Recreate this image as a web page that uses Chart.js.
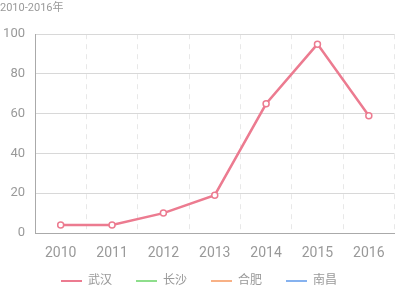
<!DOCTYPE html>
<html>
<head>
<meta charset="utf-8">
<script src="https://cdn.jsdelivr.net/npm/chart.js@4"></script>
<style>
  html, body { margin: 0; padding: 0; background: #fff; }
  #wrap { width: 400px; height: 288px; }
</style>
</head>
<body>
<div id="wrap"><canvas id="myChart"></canvas></div>
<script>
const years = ['2010', '2011', '2012', '2013', '2014', '2015', '2016'];
const cities = ['武汉', '长沙', '合肥', '南昌'];
const wuhan = [4, 4, 10, 19, 65, 95, 59];
const changsha = [];
const hefei = [];
const nanchang = [];
const colors = ['#ec7b90', '#8ede8c', '#f8b186', '#86b2ef'];

const seriesList = [wuhan, changsha, hefei, nanchang];

const datasets = cities.map((name, i) => ({
  label: name,
  data: seriesList[i],
  borderColor: colors[i],
  backgroundColor: colors[i],
  borderWidth: 2.5,
  pointRadius: 3,
  pointBorderWidth: 1.5,
  pointBackgroundColor: '#fff',
  pointBorderColor: colors[i],
  tension: 0
}));

// legend padding also spaces the items apart, so keep its box short
// and let the x labels hang into the space above the legend items
const tightBottom = {
  id: 'tightBottom',
  beforeUpdate(chart) {
    const lg = chart.legend;
    if (lg && !lg._patched) {
      const fit = lg.fit;
      lg.fit = function () {
        fit.call(this);
        this.height = 37;
      };
      lg._patched = true;
    }
  },
  afterLayout(chart) {
    const x = chart.scales.x;
    x.bottom = x.top + 34;
  }
};

const ctx = document.getElementById('myChart');

new Chart(ctx, {
  type: 'line',
  data: { labels: years, datasets: datasets },
  plugins: [tightBottom],
  options: {
    responsive: true,
    maintainAspectRatio: false,
    animation: false,
    layout: { padding: { left: 0, right: 2, top: 0, bottom: 0 } },
    plugins: {
      title: {
        display: true,
        text: '2010-2016年',
        align: 'start',
        color: '#999',
        font: { size: 11, weight: 'normal', family: 'Roboto, "Noto Sans CJK SC"' },
        padding: { top: 2, bottom: 19 }
      },
      legend: {
        position: 'bottom',
        labels: {
          boxWidth: 21,
          boxHeight: 2,
          padding: 24,
          color: '#999',
          font: { size: 12, family: 'Roboto, "Noto Sans CJK SC"' },
          generateLabels: (chart) => chart.data.datasets.map((ds, i) => ({
            text: ds.label,
            fillStyle: ds.borderColor,
            strokeStyle: ds.borderColor,
            fontColor: '#999',
            lineWidth: 0,
            hidden: false,
            datasetIndex: i
          }))
        }
      },
      tooltip: { enabled: false }
    },
    scales: {
      x: {
        offset: true,
        grid: {
          offset: true,
          color: '#e8e8e8',
          drawTicks: false
        },
        border: { color: '#aaa', width: 1, dash: [5, 5] },
        ticks: {
          color: '#999',
          padding: 12,
          font: { size: 14, family: 'Roboto' }
        },
        afterFit: (scale) => { scale.height = 18; }
      },
      y: {
        min: 0,
        max: 100,
        ticks: {
          stepSize: 20,
          color: '#999',
          padding: 10,
          font: { size: 13, family: 'Roboto' }
        },
        grid: { color: '#d8d8d8', drawTicks: false },
        border: { color: '#aaa', width: 1 },
        afterFit: (scale) => { scale.width = 35; }
      }
    }
  }
});
</script>
</body>
</html>
